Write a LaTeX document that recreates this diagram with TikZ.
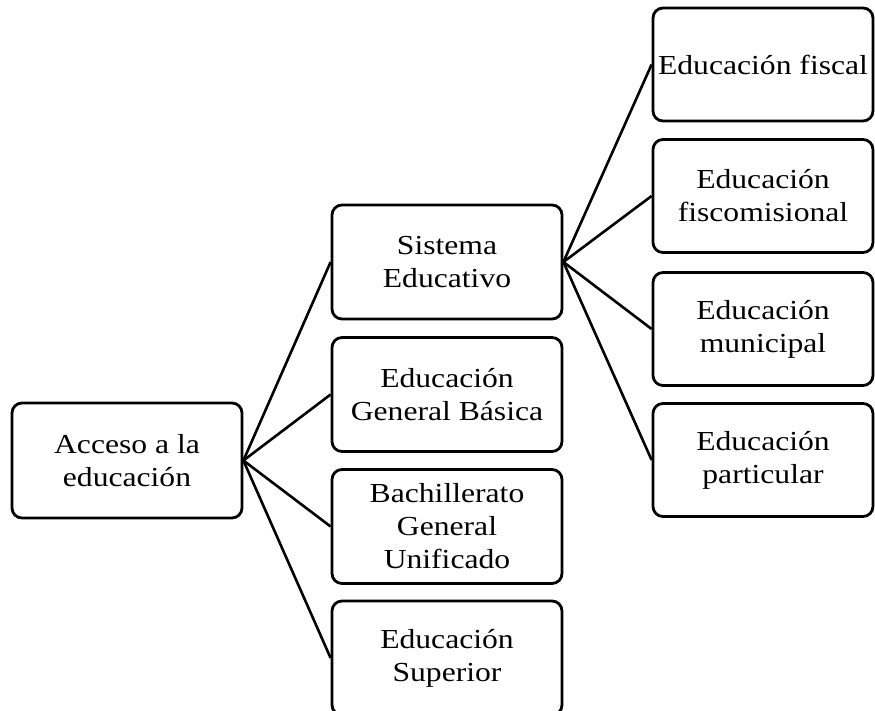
\documentclass[tikz,border=0pt]{standalone}
\usepackage{fontspec}
\setmainfont{Liberation Serif}[FakeStretch=1.15]
\begin{document}
\begin{tikzpicture}[x=1pt,y=-1pt,
  box/.style={draw=black, line width=2.8pt, rounded corners=10pt, align=center,
    inner sep=0pt, font=\fontsize{27.5}{33}\selectfont},
  midbox/.style={box, minimum width=230pt, minimum height=114pt},
  rightbox/.style={box, minimum width=220pt, minimum height=113pt},
  link/.style={line width=2.6pt}]
\useasboundingbox (0,0) rectangle (875,711);
\node[box, minimum width=230pt, minimum height=115pt] (acc) at (127,460.5) {Acceso a la\\educación};
\node[midbox] (sis) at (447,262) {Sistema\\Educativo};
\node[midbox] (egb) at (447,394.5) {Educación\\General Básica};
\node[midbox] (bgu) at (447,526.5) {Bachillerato\\General\\Unificado};
\node[midbox] (sup) at (447,658) {Educación\\Superior};
\node[rightbox] (fis) at (763,64.5) {Educación fiscal};
\node[rightbox] (fcm) at (763,196) {Educación\\fiscomisional};
\node[rightbox] (mun) at (763,329) {Educación\\municipal};
\node[rightbox] (par) at (763,460) {Educación\\particular};
\foreach \t in {sis,egb,bgu,sup} \draw[link] (acc.east) -- (\t.west);
\foreach \t in {fis,fcm,mun,par} \draw[link] (sis.east) -- (\t.west);
\end{tikzpicture}
\end{document}
